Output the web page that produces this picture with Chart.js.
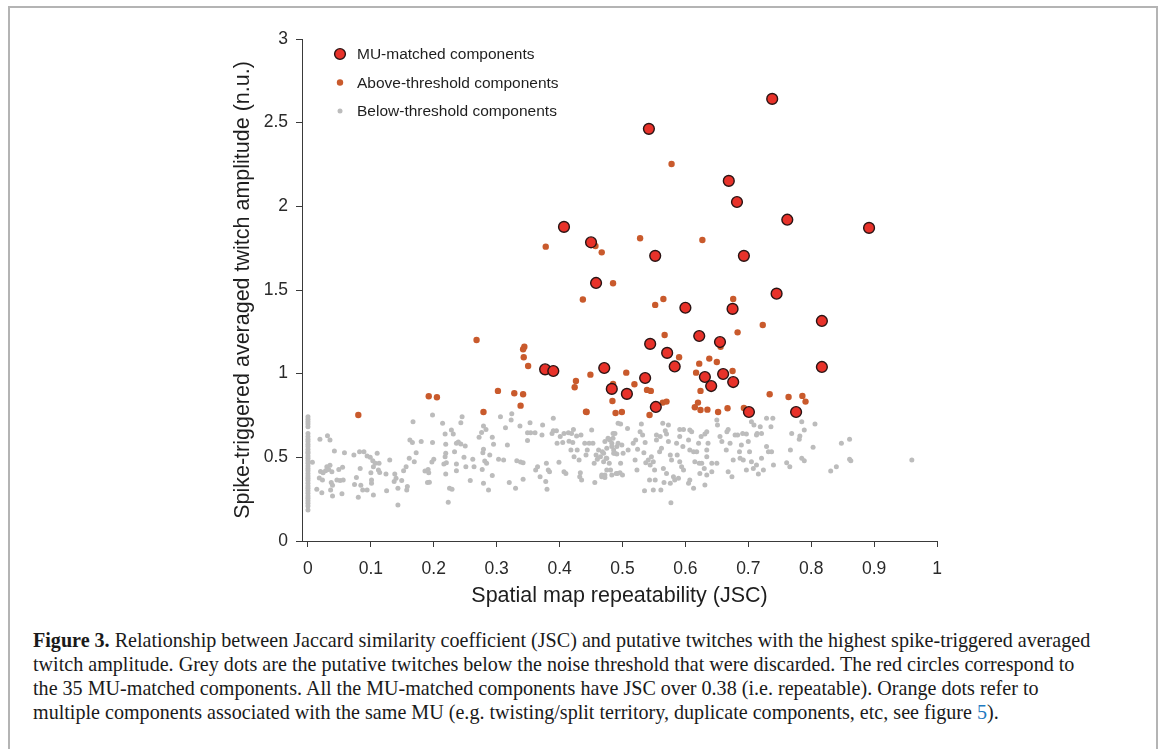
<!DOCTYPE html>
<html>
<head>
<meta charset="utf-8">
<script src="https://cdn.jsdelivr.net/npm/chart.js@4.4.1/dist/chart.umd.min.js"></script>
<style>
    html, body { margin: 0; padding: 0; background: #fff; }
    #page { position: relative; width: 1168px; height: 749px; overflow: hidden; }
    #frame { position: absolute; left: 8px; top: 6px; width: 1150px; height: 760px; border: 2px solid #b4b4b4; box-sizing: border-box; }
    #plot { position: absolute; left: 0; top: 0; }
    #caption {
        position: absolute; left: 33px; top: 628px;
        font-family: "Liberation Serif", "DejaVu Serif", serif;
        font-size: 20.1px; line-height: 24px; color: #1a1a1a; white-space: nowrap;
    }
    #caption a { color: #1f7ac0; text-decoration: none; }
</style>
</head>
<body>
<div id="page">
    <div id="frame"></div>
    <canvas id="plot" width="1168" height="625"></canvas>
    <div id="caption">
        <b>Figure 3.</b> Relationship between Jaccard similarity coefficient (JSC) and putative twitches with the highest spike-triggered averaged<br>
        twitch amplitude. Grey dots are the putative twitches below the noise threshold that were discarded. The red circles correspond to<br>
        the 35 MU-matched components. All the MU-matched components have JSC over 0.38 (i.e. repeatable). Orange dots refer to<br>
        multiple components associated with the same MU (e.g. twisting/split territory, duplicate components, etc, see figure <a>5</a>).
    </div>
</div>
<script>
var seriesNames = ['MU-matched components', 'Above-threshold components', 'Below-threshold components'];

// MU-matched components, [JSC, amplitude]
var matchedPoints = [
    [0.738, 2.642], [0.542, 2.463], [0.669, 2.152], [0.682, 2.026], [0.407, 1.877],
    [0.762, 1.920], [0.892, 1.871], [0.450, 1.785], [0.552, 1.704], [0.693, 1.704],
    [0.458, 1.542], [0.745, 1.478], [0.600, 1.394], [0.675, 1.387], [0.817, 1.315],
    [0.622, 1.225], [0.655, 1.189], [0.544, 1.178], [0.571, 1.124], [0.583, 1.043],
    [0.471, 1.034], [0.377, 1.026], [0.390, 1.016], [0.817, 1.040], [0.536, 0.974],
    [0.631, 0.980], [0.660, 0.998], [0.676, 0.950], [0.641, 0.926], [0.483, 0.909],
    [0.507, 0.879], [0.553, 0.801], [0.701, 0.771], [0.776, 0.771]
];

var abovePoints = [
    [0.080, 0.753], [0.192, 0.865], [0.205, 0.859], [0.268, 1.201], [0.279, 0.771],
    [0.302, 0.897], [0.328, 0.883], [0.342, 0.877], [0.338, 0.809], [0.344, 1.161],
    [0.342, 1.146], [0.343, 1.098], [0.350, 1.046], [0.426, 0.956], [0.424, 0.919],
    [0.449, 0.994], [0.442, 0.773], [0.437, 1.443], [0.378, 1.759], [0.457, 1.763],
    [0.467, 1.725], [0.528, 1.809], [0.578, 2.253], [0.627, 1.799], [0.485, 1.540],
    [0.552, 1.411], [0.565, 1.446], [0.676, 1.446], [0.723, 1.291], [0.683, 1.247],
    [0.567, 1.231], [0.656, 1.161], [0.590, 1.098], [0.622, 1.060], [0.638, 1.090],
    [0.650, 1.070], [0.675, 1.016], [0.617, 1.006], [0.506, 1.006], [0.519, 0.937],
    [0.485, 0.938], [0.484, 0.837], [0.539, 0.903], [0.545, 0.897], [0.624, 0.897],
    [0.564, 0.827], [0.570, 0.833], [0.620, 0.827], [0.615, 0.799], [0.624, 0.783],
    [0.635, 0.785], [0.652, 0.771], [0.667, 0.793], [0.693, 0.795], [0.489, 0.765],
    [0.499, 0.771], [0.443, 0.771], [0.543, 0.753], [0.734, 0.877], [0.764, 0.861],
    [0.786, 0.867], [0.791, 0.833]
];

// components with JSC = 0 stacked on the axis
var zeroJscAmplitudes = [
    0.743, 0.727, 0.713, 0.699, 0.683, 0.643, 0.624, 0.608, 0.594, 0.578,
    0.564, 0.548, 0.534, 0.524, 0.508, 0.494, 0.480, 0.464, 0.448, 0.434,
    0.420, 0.404, 0.388, 0.375, 0.361, 0.345, 0.329, 0.315, 0.301, 0.285,
    0.269, 0.255, 0.241, 0.225, 0.209, 0.185
];

var belowPoints = [
    [0.019, 0.608], [0.031, 0.629], [0.035, 0.604], [0.042, 0.538], [0.007, 0.470],
    [0.030, 0.444], [0.035, 0.452], [0.020, 0.416], [0.024, 0.408], [0.028, 0.420],
    [0.033, 0.428], [0.038, 0.414], [0.018, 0.376], [0.023, 0.365], [0.037, 0.349],
    [0.039, 0.333], [0.046, 0.365], [0.051, 0.361], [0.056, 0.365], [0.014, 0.309],
    [0.022, 0.289], [0.036, 0.305], [0.039, 0.269], [0.054, 0.283], [0.049, 0.428],
    [0.055, 0.440], [0.058, 0.528], [0.073, 0.514], [0.082, 0.534], [0.089, 0.534],
    [0.094, 0.508], [0.099, 0.500], [0.103, 0.480], [0.110, 0.524], [0.107, 0.464],
    [0.113, 0.464], [0.104, 0.444], [0.112, 0.424], [0.083, 0.434], [0.077, 0.380],
    [0.074, 0.337], [0.084, 0.333], [0.087, 0.305], [0.094, 0.305], [0.101, 0.365],
    [0.101, 0.345], [0.100, 0.408], [0.114, 0.410], [0.124, 0.400], [0.130, 0.484],
    [0.080, 0.261], [0.104, 0.275], [0.125, 0.301], [0.138, 0.400], [0.140, 0.375],
    [0.137, 0.355], [0.143, 0.315], [0.143, 0.215], [0.149, 0.361], [0.152, 0.420],
    [0.156, 0.444], [0.158, 0.325], [0.157, 0.305], [0.161, 0.494], [0.162, 0.604],
    [0.166, 0.588], [0.169, 0.474], [0.172, 0.528], [0.180, 0.594], [0.167, 0.713],
    [0.186, 0.418], [0.190, 0.349], [0.193, 0.351], [0.191, 0.428], [0.192, 0.408],
    [0.198, 0.588], [0.200, 0.488], [0.197, 0.472], [0.198, 0.753], [0.214, 0.703],
    [0.218, 0.639], [0.219, 0.578], [0.218, 0.504], [0.219, 0.524], [0.216, 0.460],
    [0.220, 0.468], [0.219, 0.400], [0.225, 0.315], [0.229, 0.309], [0.223, 0.231],
    [0.228, 0.663], [0.231, 0.639], [0.233, 0.534], [0.236, 0.584], [0.236, 0.460],
    [0.236, 0.420], [0.239, 0.592], [0.243, 0.707], [0.245, 0.743], [0.243, 0.580],
    [0.248, 0.500], [0.250, 0.568], [0.251, 0.444], [0.258, 0.361], [0.262, 0.488],
    [0.264, 0.444], [0.272, 0.620], [0.276, 0.649], [0.279, 0.687], [0.283, 0.667],
    [0.279, 0.548], [0.278, 0.528], [0.281, 0.478], [0.284, 0.464], [0.277, 0.428],
    [0.279, 0.345], [0.287, 0.305], [0.289, 0.514], [0.293, 0.620], [0.295, 0.578],
    [0.293, 0.392], [0.303, 0.488], [0.306, 0.743], [0.311, 0.484], [0.314, 0.677],
    [0.317, 0.574], [0.320, 0.349], [0.323, 0.723], [0.324, 0.760], [0.330, 0.315],
    [0.332, 0.480], [0.337, 0.687], [0.338, 0.472], [0.342, 0.369], [0.342, 0.468],
    [0.349, 0.600], [0.349, 0.647], [0.353, 0.707], [0.354, 0.647], [0.361, 0.647],
    [0.362, 0.424], [0.365, 0.444], [0.369, 0.384], [0.373, 0.693], [0.372, 0.633],
    [0.378, 0.355], [0.380, 0.309], [0.379, 0.464], [0.382, 0.424], [0.384, 0.414],
    [0.390, 0.733], [0.390, 0.659], [0.388, 0.643], [0.395, 0.659], [0.399, 0.470],
    [0.396, 0.584], [0.401, 0.624], [0.405, 0.588], [0.407, 0.643], [0.407, 0.414],
    [0.410, 0.404], [0.414, 0.647], [0.415, 0.596], [0.422, 0.667], [0.419, 0.643],
    [0.421, 0.588], [0.418, 0.544], [0.423, 0.504], [0.427, 0.627], [0.428, 0.544],
    [0.431, 0.484], [0.434, 0.633], [0.433, 0.408], [0.432, 0.384], [0.435, 0.365],
    [0.440, 0.584], [0.444, 0.544], [0.442, 0.514], [0.447, 0.584], [0.451, 0.663],
    [0.453, 0.584], [0.455, 0.464], [0.456, 0.349], [0.458, 0.514], [0.460, 0.488],
    [0.462, 0.544], [0.465, 0.504], [0.467, 0.384], [0.470, 0.524], [0.472, 0.394],
    [0.475, 0.494], [0.477, 0.614], [0.480, 0.604], [0.481, 0.424], [0.483, 0.564],
    [0.485, 0.643], [0.486, 0.544], [0.488, 0.524], [0.491, 0.564], [0.493, 0.703],
    [0.492, 0.404],
    [0.497, 0.699], [0.508, 0.673], [0.488, 0.643], [0.485, 0.614], [0.479, 0.608],
    [0.472, 0.594], [0.475, 0.554], [0.468, 0.534], [0.483, 0.584], [0.493, 0.584],
    [0.499, 0.574], [0.501, 0.524], [0.491, 0.520], [0.486, 0.524], [0.474, 0.494],
    [0.470, 0.474], [0.479, 0.464], [0.475, 0.424], [0.467, 0.394], [0.472, 0.380],
    [0.483, 0.394], [0.490, 0.404], [0.497, 0.464], [0.496, 0.408], [0.500, 0.394],
    [0.509, 0.544], [0.517, 0.584], [0.521, 0.604], [0.524, 0.548], [0.520, 0.484],
    [0.523, 0.424], [0.528, 0.653], [0.532, 0.633], [0.530, 0.699], [0.536, 0.588],
    [0.534, 0.528], [0.537, 0.468], [0.541, 0.484], [0.544, 0.454], [0.546, 0.504],
    [0.549, 0.474], [0.551, 0.424], [0.543, 0.365], [0.552, 0.365], [0.554, 0.604],
    [0.554, 0.633], [0.560, 0.624], [0.559, 0.534], [0.562, 0.554], [0.564, 0.703],
    [0.573, 0.693], [0.568, 0.659], [0.570, 0.639], [0.573, 0.594], [0.576, 0.514],
    [0.578, 0.484], [0.565, 0.434], [0.570, 0.404], [0.581, 0.384], [0.583, 0.365],
    [0.589, 0.375], [0.576, 0.345], [0.566, 0.349], [0.561, 0.305], [0.549, 0.305],
    [0.535, 0.301], [0.577, 0.229], [0.591, 0.667], [0.597, 0.667], [0.591, 0.624],
    [0.586, 0.584], [0.596, 0.564], [0.587, 0.514], [0.591, 0.474], [0.594, 0.444],
    [0.597, 0.424], [0.607, 0.663], [0.610, 0.653], [0.605, 0.604], [0.607, 0.544],
    [0.613, 0.534], [0.618, 0.534], [0.621, 0.584], [0.625, 0.624], [0.631, 0.639],
    [0.634, 0.653], [0.636, 0.584], [0.634, 0.544], [0.615, 0.474], [0.622, 0.464],
    [0.626, 0.464], [0.634, 0.504], [0.642, 0.464], [0.650, 0.464], [0.630, 0.434],
    [0.623, 0.404], [0.634, 0.394], [0.642, 0.414], [0.607, 0.365], [0.605, 0.345],
    [0.613, 0.315], [0.631, 0.335], [0.650, 0.723], [0.651, 0.693], [0.655, 0.624],
    [0.658, 0.594], [0.666, 0.653], [0.668, 0.667], [0.665, 0.544], [0.671, 0.584],
    [0.679, 0.633], [0.683, 0.633], [0.691, 0.643], [0.697, 0.639], [0.700, 0.594],
    [0.702, 0.534], [0.705, 0.713], [0.709, 0.693], [0.713, 0.633], [0.714, 0.643],
    [0.719, 0.683], [0.721, 0.643], [0.729, 0.733], [0.739, 0.733], [0.736, 0.683],
    [0.676, 0.484], [0.687, 0.494], [0.692, 0.484], [0.705, 0.474], [0.708, 0.434],
    [0.713, 0.454], [0.721, 0.494], [0.729, 0.564], [0.732, 0.534], [0.737, 0.534],
    [0.724, 0.424], [0.716, 0.400], [0.740, 0.454], [0.761, 0.468], [0.766, 0.444],
    [0.769, 0.643], [0.782, 0.627], [0.781, 0.608], [0.789, 0.663], [0.785, 0.713],
    [0.806, 0.699], [0.767, 0.544], [0.803, 0.560], [0.785, 0.494], [0.789, 0.480],
    [0.848, 0.584], [0.861, 0.608], [0.861, 0.488], [0.863, 0.480], [0.831, 0.418],
    [0.840, 0.444], [0.960, 0.484], [0.668, 0.414], [0.674, 0.384], [0.697, 0.424],
    [0.686, 0.534], [0.689, 0.574]
];

var xTicks = [0, 0.1, 0.2, 0.3, 0.4, 0.5, 0.6, 0.7, 0.8, 0.9, 1];
var xTickLabels = ['0', '0.1', '0.2', '0.3', '0.4', '0.5', '0.6', '0.7', '0.8', '0.9', '1'];
var yTicks = [0, 0.5, 1, 1.5, 2, 2.5, 3];
var yTickLabels = ['0', '0.5', '1', '1.5', '2', '2.5', '3'];

var xTitle = 'Spatial map repeatability (JSC)';
var yTitle = 'Spike-triggered averaged twitch amplitude (n.u.)';

function toXY(list) {
    var out = [];
    for (var i = 0; i < list.length; i++) {
        out.push({ x: list[i][0], y: list[i][1] });
    }
    return out;
}

var belowData = [];
for (var i = 0; i < zeroJscAmplitudes.length; i++) {
    belowData.push({ x: 0, y: zeroJscAmplitudes[i] });
}
belowData = belowData.concat(toXY(belowPoints));

// legend drawn inside the plot, top left
var insideLegend = {
    id: 'insideLegend',
    afterDatasetsDraw: function (chart) {
        var ctx = chart.ctx;
        var area = chart.chartArea;
        var sets = chart.data.datasets;
        ctx.save();
        ctx.font = '15.5px "Liberation Sans", Arial, sans-serif';
        ctx.textBaseline = 'middle';
        for (var i = 0; i < sets.length; i++) {
            var cx = area.left + 38;
            var cy = area.top + 15 + i * 28.5;
            ctx.beginPath();
            ctx.arc(cx, cy, sets[i].pointRadius, 0, Math.PI * 2);
            ctx.fillStyle = sets[i].backgroundColor;
            ctx.fill();
            if (sets[i].borderWidth > 0) {
                ctx.lineWidth = sets[i].borderWidth;
                ctx.strokeStyle = sets[i].borderColor;
                ctx.stroke();
            }
            ctx.fillStyle = '#1e1e1e';
            ctx.fillText(sets[i].label, cx + 17, cy + 1);
        }
        ctx.restore();
    }
};

var axisFont = { family: '"Liberation Sans", Arial, sans-serif', size: 17.5 };
var titleFont = { family: '"Liberation Sans", Arial, sans-serif', size: 21.5 };

var ctx = document.getElementById('plot').getContext('2d');
var chart = new Chart(ctx, {
    type: 'scatter',
    data: {
        datasets: [{
            label: seriesNames[0],
            data: toXY(matchedPoints),
            backgroundColor: '#e8322a',
            borderColor: '#2a1414',
            borderWidth: 1.4,
            pointRadius: 5.4
        }, {
            label: seriesNames[1],
            data: toXY(abovePoints),
            backgroundColor: '#c95a2c',
            borderColor: '#c95a2c',
            borderWidth: 0,
            pointRadius: 3.2
        }, {
            label: seriesNames[2],
            data: belowData,
            backgroundColor: '#bcbcbc',
            borderColor: '#bcbcbc',
            borderWidth: 0,
            pointRadius: 2.5
        }]
    },
    options: {
        responsive: false,
        animation: false,
        layout: { padding: { left: 222, right: 231, top: 39, bottom: 4 } },
        plugins: {
            legend: { display: false },
            tooltip: { enabled: false }
        },
        scales: {
            x: {
                type: 'linear',
                min: -0.0095,
                max: 1,
                afterBuildTicks: function (scale) {
                    scale.ticks = xTicks.map(function (v) { return { value: v }; });
                },
                afterFit: function (scale) { scale.height = 80; },
                grid: { drawOnChartArea: false, drawTicks: true, tickLength: 6, tickColor: '#3a3a3a' },
                border: { display: true, color: '#3a3a3a', width: 1 },
                ticks: {
                    color: '#2a2a2a',
                    font: axisFont,
                    padding: 12,
                    maxRotation: 0,
                    callback: function (value) {
                        var k = xTicks.indexOf(value);
                        return k >= 0 ? xTickLabels[k] : '';
                    }
                },
                title: { display: true, text: xTitle, color: '#1e1e1e', font: titleFont, padding: { top: 0, bottom: 12 } }
            },
            y: {
                type: 'linear',
                min: 0,
                max: 3,
                afterBuildTicks: function (scale) {
                    scale.ticks = yTicks.map(function (v) { return { value: v }; });
                },
                afterFit: function (scale) { scale.width = 80; },
                grid: { drawOnChartArea: false, drawTicks: true, tickLength: 6, tickColor: '#3a3a3a' },
                border: { display: true, color: '#3a3a3a', width: 1 },
                ticks: {
                    color: '#2a2a2a',
                    font: axisFont,
                    padding: 8,
                    callback: function (value) {
                        var k = yTicks.indexOf(value);
                        return k >= 0 ? yTickLabels[k] : '';
                    }
                },
                title: { display: true, text: yTitle, color: '#1e1e1e', font: titleFont, padding: { top: 8, bottom: 0 } }
            }
        }
    },
    plugins: [insideLegend]
});
</script>
</body>
</html>
